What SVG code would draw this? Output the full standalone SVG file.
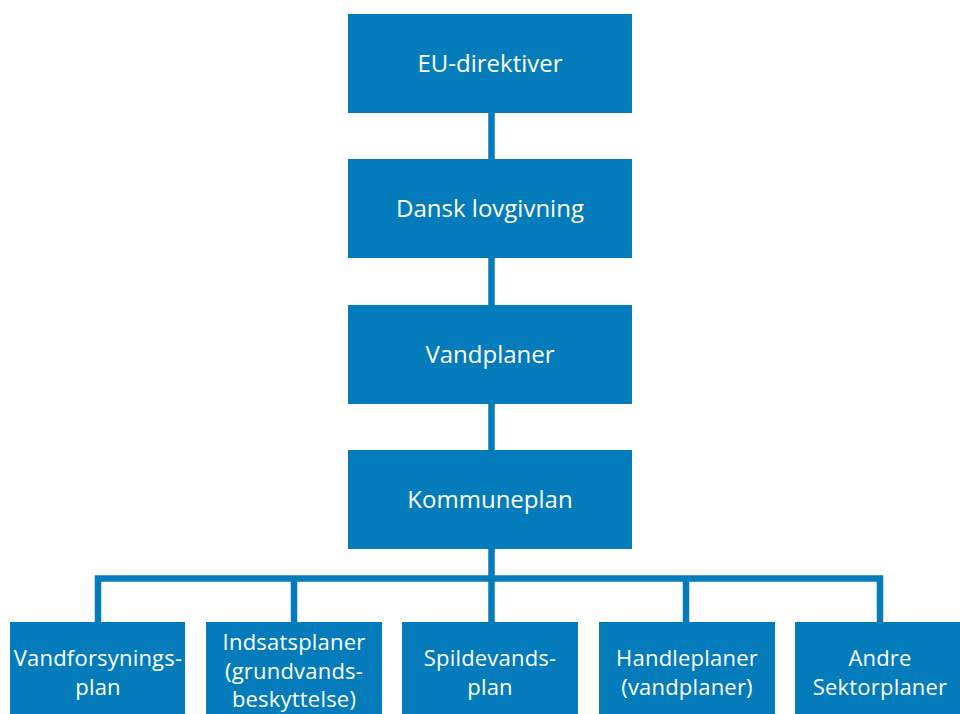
<svg xmlns="http://www.w3.org/2000/svg" width="960" height="714" viewBox="0 0 960 714">
<style>
.box{fill:#047BBA}
.t{fill:#fff;font-family:"Open Sans","Noto Sans",sans-serif;text-anchor:middle}
.m{font-size:24px}
.s{font-size:22px;letter-spacing:0.2px}
.c{fill:none;stroke:#047BBA;stroke-width:6.5}
</style>
<rect width="960" height="714" fill="#fff"/>
<g id="connectors">
<path class="c" d="M491.5,113V159M491.5,258V305M491.5,404V450M491.5,549V622"/>
<path class="c" d="M98,622V578.5H880V622M294,578.5V622M686,578.5V622"/>
</g>
<g id="eu"><rect class="box" x="348" y="14" width="284" height="99"/><text class="t m" x="490" y="72">EU-direktiver</text></g>
<g id="dansk"><rect class="box" x="348" y="159" width="284" height="99"/><text class="t m" x="490" y="217">Dansk lovgivning</text></g>
<g id="vandplaner"><rect class="box" x="348" y="305" width="284" height="99"/><text class="t m" x="490" y="363">Vandplaner</text></g>
<g id="kommuneplan"><rect class="box" x="348" y="450" width="284" height="99"/><text class="t m" x="490" y="508">Kommuneplan</text></g>
<g id="vandforsyning"><rect class="box" x="10" y="622" width="175" height="92"/><text class="t s" x="98" y="666">Vandforsynings-</text><text class="t s" x="98" y="695">plan</text></g>
<g id="indsats"><rect class="box" x="206" y="622" width="176" height="92"/><text class="t s" x="294" y="650">Indsatsplaner</text><text class="t s" x="294" y="678.5">(grundvands-</text><text class="t s" x="294" y="707">beskyttelse)</text></g>
<g id="spildevand"><rect class="box" x="402" y="622" width="176" height="92"/><text class="t s" x="490" y="666">Spildevands-</text><text class="t s" x="490" y="695">plan</text></g>
<g id="handle"><rect class="box" x="599" y="622" width="176" height="92"/><text class="t s" x="687" y="666">Handleplaner</text><text class="t s" x="687" y="695">(vandplaner)</text></g>
<g id="andre"><rect class="box" x="795" y="622" width="176" height="92"/><text class="t s" x="880" y="666">Andre</text><text class="t s" x="880" y="695">Sektorplaner</text></g>
</svg>
